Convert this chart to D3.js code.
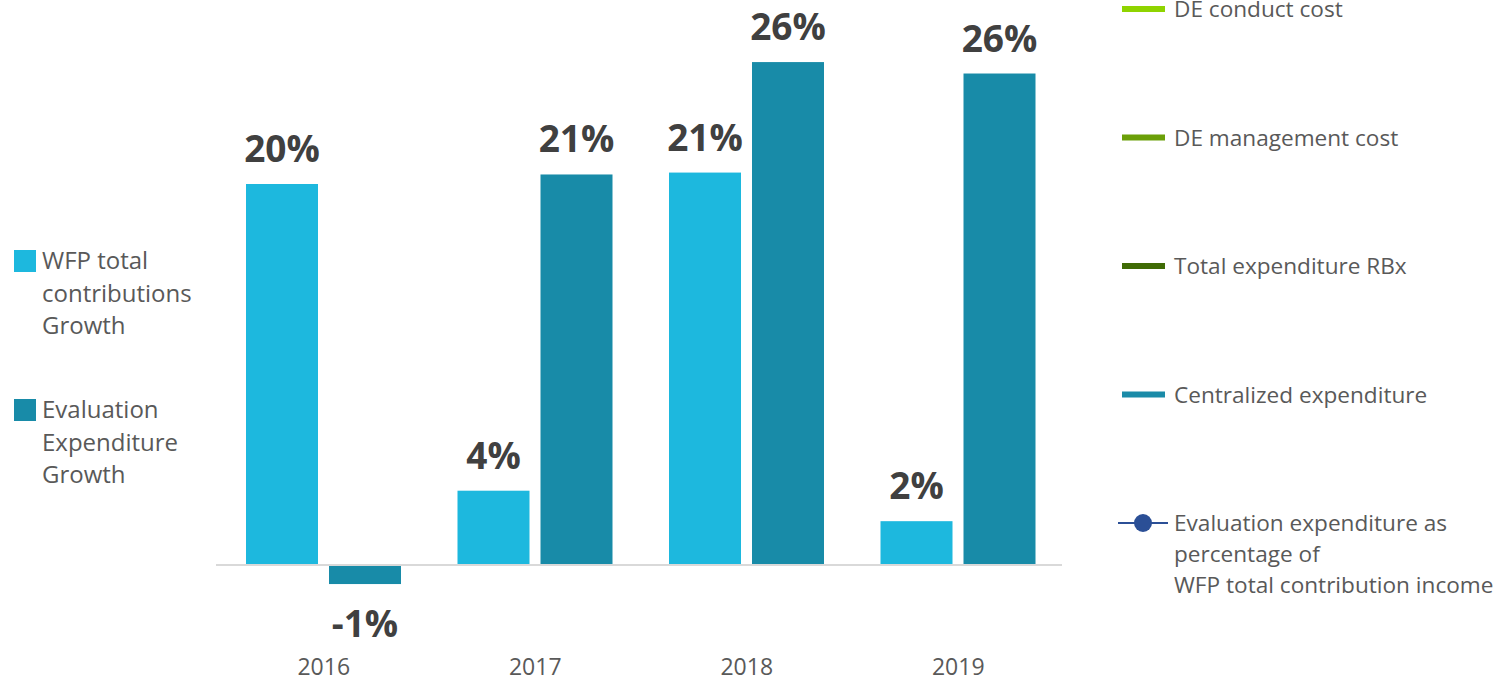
<!DOCTYPE html>
<html><head><meta charset="utf-8">
<script src="https://cdn.jsdelivr.net/npm/d3@7"></script>
<style>body{margin:0;background:#fff;}svg{display:block;font-family:"Open Sans",sans-serif;}</style>
</head><body>
<svg id="c" width="1499" height="681"></svg>
<script>
const years = ["2016","2017","2018","2019"];
const contributionsGrowth = [20.0, 3.9, 20.6, 2.3];
const expenditureGrowth = [-1.0, 20.5, 26.4, 25.8];
const labelsContrib = ["20%","4%","21%","2%"];
const labelsExpend = ["-1%","21%","26%","26%"];
const seriesNames = ["WFP total contributions Growth","Evaluation Expenditure Growth"];
const leftLegendLines = [["WFP total","contributions","Growth"],["Evaluation","Expenditure","Growth"]];
const rightLegend = [
  {lines:["DE conduct cost"], color:"#8fd400", marker:false},
  {lines:["DE management cost"], color:"#6b9f08", marker:false},
  {lines:["Total expenditure RBx"], color:"#3f6b05", marker:false},
  {lines:["Centralized expenditure"], color:"#1a8ba8", marker:false},
  {lines:["Evaluation expenditure as","percentage of","WFP total contribution income"], color:"#2b4f96", marker:true}
];
const colors = ["#1db8de","#188ba8"];

const svg = d3.select("#c");
const x = d3.scaleBand().domain(years).range([218,1064]).paddingInner(0).paddingOuter(0);
const inner = d3.scaleBand().domain([0,1]).range([28, 183]).paddingInner(11/83).paddingOuter(0);
const y = d3.scaleLinear().domain([0,20]).range([565,184]);

const data = years.map((yr,i)=>[
  {yr, s:0, v:contributionsGrowth[i], lab:labelsContrib[i]},
  {yr, s:1, v:expenditureGrowth[i], lab:labelsExpend[i]}
]).flat();

svg.selectAll("rect.bar").data(data).join("rect").attr("class","bar")
  .attr("x",d=>x(d.yr)+inner(d.s))
  .attr("width",inner.bandwidth())
  .attr("y",d=>Math.min(y(d.v),y(0)))
  .attr("height",d=>Math.abs(y(d.v)-y(0)))
  .attr("fill",d=>colors[d.s]);

svg.append("line").attr("x1",216).attr("x2",1062).attr("y1",y(0)).attr("y2",y(0))
  .attr("stroke","#d9d9d9").attr("stroke-width",2);

svg.selectAll("text.val").data(data).join("text").attr("class","val")
  .attr("x",d=>x(d.yr)+inner(d.s)+inner.bandwidth()/2)
  .attr("y",d=>d.v>=0? y(d.v)-22 : y(d.v)+53)
  .attr("text-anchor","middle").attr("font-size",37).attr("font-weight",700)
  .attr("fill","#404040").text(d=>d.lab);

const xAxis = svg.append("g").attr("transform",`translate(0,${y(0)})`)
  .call(d3.axisBottom(x).tickSize(0).tickPadding(0));
xAxis.select(".domain").remove();
xAxis.selectAll("text").attr("y",110).attr("dy",0).attr("font-size",23).attr("fill","#595959")
  .attr("font-family","'Open Sans',sans-serif");

// left legend
const ll = svg.append("g");
leftLegendLines.forEach((lines,i)=>{
  const y0 = 250 + i*149;
  ll.append("rect").attr("x",14).attr("y",y0).attr("width",22).attr("height",22).attr("fill",colors[i]);
  lines.forEach((t,j)=>{
    ll.append("text").attr("x",42).attr("y",y0+19+j*32.5).attr("font-size",24).attr("fill","#595959").text(t);
  });
});

// right legend
const rl = svg.append("g");
rightLegend.forEach((e,i)=>{
  const cy = 9 + i*128.5;
  if(e.marker){
    rl.append("line").attr("x1",1118).attr("x2",1168).attr("y1",cy).attr("y2",cy).attr("stroke",e.color).attr("stroke-width",2);
    rl.append("circle").attr("cx",1143).attr("cy",cy).attr("r",9).attr("fill",e.color);
  } else {
    rl.append("rect").attr("x",1122).attr("y",cy-3).attr("width",43).attr("height",6).attr("fill",e.color);
  }
  e.lines.forEach((t,j)=>{
    rl.append("text").attr("x",1174).attr("y",cy+8+j*31).attr("font-size",22.6).attr("fill","#595959").text(t);
  });
});
</script>
</body></html>
